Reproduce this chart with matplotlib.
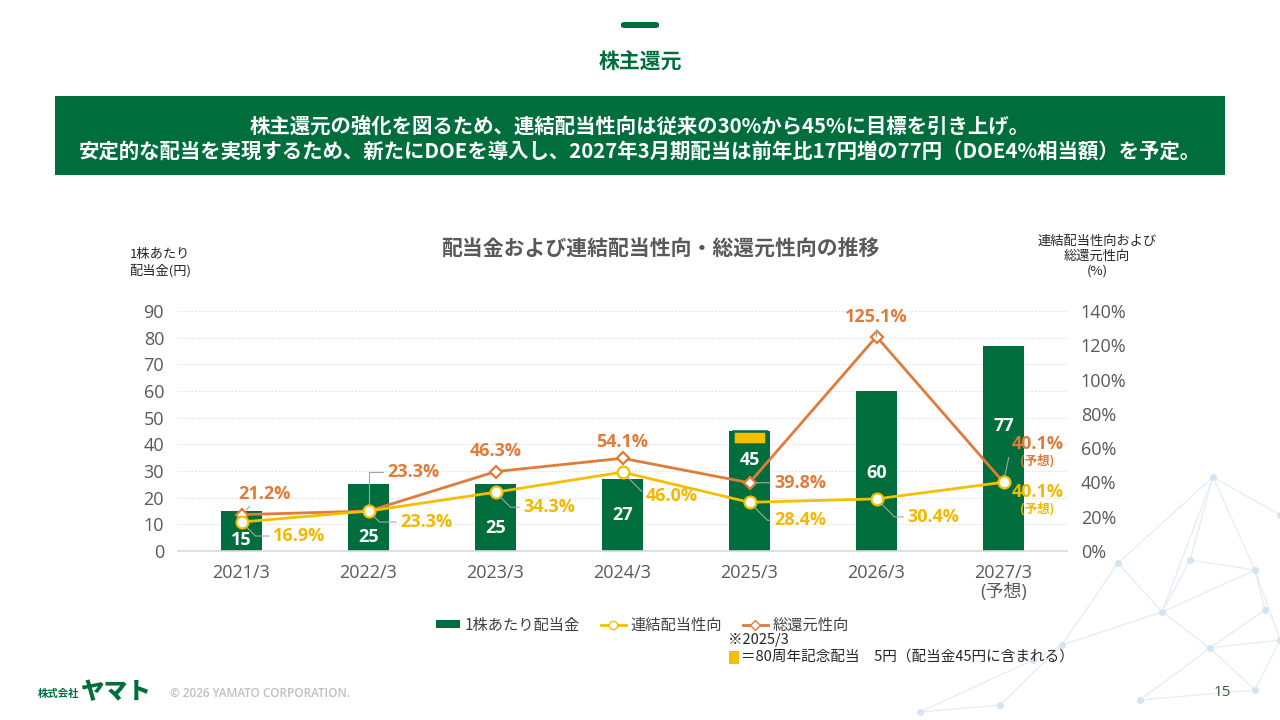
import matplotlib
matplotlib.use("Agg")
import matplotlib.pyplot as plt
from matplotlib.patches import Rectangle, FancyBboxPatch, Patch
from matplotlib.lines import Line2D

# ---------------- data ----------------
categories = ["2021/3", "2022/3", "2023/3", "2024/3", "2025/3", "2026/3", "2027/3\n(予想)"]
dividend = [15, 25, 25, 27, 45, 60, 77]            # 1株あたり配当金 (円)
commemorative = [0, 0, 0, 0, 5, 0, 0]              # 80周年記念配当 (円, 配当金に含まれる)
payout_ratio = [16.9, 23.3, 34.3, 46.0, 28.4, 30.4, 40.1]        # 連結配当性向 (%)
total_return = [21.2, 23.3, 46.3, 54.1, 39.8, 125.1, 40.1]       # 総還元性向 (%)
forecast = [False, False, False, False, False, False, True]
left_ticks = list(range(0, 91, 10))
right_ticks = list(range(0, 141, 20))

# ---------------- styles ----------------
GREEN = "#006E3C"
YELLOW = "#F5BF00"
YELLOW_TXT = "#F2B900"
ORANGE = "#E07B39"
GRAY = "#595959"
JP = ["Noto Sans CJK JP", "DejaVu Sans"]
NUM = ["Open Sans", "Noto Sans CJK JP", "DejaVu Sans"]
plt.rcParams["font.family"] = JP

W, H = 1280, 720
fig = plt.figure(figsize=(12.8, 7.2), dpi=100)
fig.patch.set_facecolor("white")

def fx(px):
    return px / W

def fy(py):
    return 1 - py / H

# ---------------- decorative network (bottom right) ----------------
nodes = [(1213, 477), (1280, 515), (1118, 563), (1162, 612), (1255, 570), (1280, 640),
         (1210, 648), (1062, 645), (1000, 705), (920, 712), (1033, 660), (1140, 700),
         (1255, 690), (1190, 560), (1265, 610)]
edges = [(0, 1), (0, 2), (0, 3), (0, 4), (2, 3), (3, 4), (4, 5), (3, 6), (6, 5), (3, 7),
         (7, 8), (8, 9), (7, 10), (10, 9), (6, 11), (11, 12), (6, 12), (0, 13), (13, 4),
         (4, 14), (14, 6), (12, 5), (2, 7), (13, 3)]
for a, b in edges:
    fig.add_artist(Line2D([fx(nodes[a][0]), fx(nodes[b][0])], [fy(nodes[a][1]), fy(nodes[b][1])],
                          transform=fig.transFigure, color="#E2EDF6", lw=0.9, zorder=0))
for (x, y) in nodes:
    fig.add_artist(Line2D([fx(x)], [fy(y)], transform=fig.transFigure, marker="o",
                          markersize=4, color="#D3E4F2", lw=0, zorder=0))

# ---------------- header ----------------
fig.add_artist(FancyBboxPatch((fx(621), fy(28)), fx(38), 6 / H,
                              boxstyle="round,pad=0,rounding_size=0.003",
                              transform=fig.transFigure, color=GREEN, lw=0))
fig.text(0.5, fy(62), "株主還元", ha="center", va="center", fontsize=15,
         fontweight="bold", color=GREEN)
fig.add_artist(Rectangle((fx(55), fy(175)), fx(1170), 79 / H, transform=fig.transFigure,
                         color=GREEN, lw=0))
fig.text(0.5, fy(126), "株主還元の強化を図るため、連結配当性向は従来の30%から45%に目標を引き上げ。",
         ha="center", va="center", fontsize=14.7, fontweight="bold", color="white")
fig.text(0.5, fy(151), "安定的な配当を実現するため、新たにDOEを導入し、2027年3月期配当は前年比17円増の77円（DOE4%相当額）を予定。",
         ha="center", va="center", fontsize=14.7, fontweight="bold", color="white")

# ---------------- chart ----------------
ax = fig.add_axes([fx(178), fy(551), fx(1067 - 178), 240 / H])
ax2 = ax.twinx()
x = list(range(len(categories)))
bar_w = 0.315

ax.bar(x, dividend, width=bar_w, color=GREEN, lw=0, zorder=2)
sel = [i for i, c in enumerate(commemorative) if c > 0]
ax.bar([x[i] for i in sel], [commemorative[i] for i in sel],
       bottom=[dividend[i] - commemorative[i] for i in sel], width=bar_w * 0.84,
       color=YELLOW, edgecolor=GREEN, linewidth=1.8, zorder=3)

ax.set_xlim(-0.5, 6.5)
ax.set_ylim(0, 90)
ax2.set_ylim(0, 140)
ax.set_yticks(left_ticks)
ax2.set_yticks(right_ticks)
ax2.set_yticklabels([f"{t}%" for t in right_ticks])
ax.set_xticks(x)
ax.set_xticklabels(categories)
for a in (ax, ax2):
    for s in a.spines.values():
        s.set_visible(False)
    a.tick_params(length=0)
ax.spines["bottom"].set_visible(True)
ax.spines["bottom"].set_color("#D9D9D9")
ax.spines["bottom"].set_linewidth(1.2)
ax.yaxis.grid(True, color="#E3E3E3", linestyle=(0, (1.5, 1.5)), lw=0.8)
ax.set_axisbelow(True)
ax.tick_params(axis="y", pad=10, labelsize=13, labelcolor=GRAY)
ax.tick_params(axis="x", pad=9, labelsize=13, labelcolor=GRAY)
ax2.tick_params(axis="y", pad=10, labelsize=13, labelcolor=GRAY)
for lab in ax.get_yticklabels() + ax.get_xticklabels() + ax2.get_yticklabels():
    lab.set_fontfamily(NUM)
for lab in ax.get_xticklabels():
    lab.set_linespacing(1.1)

# bar value labels (position inside bar)
bar_label_y = [4.1, 5.4, 8.6, 13.5, 34.1, 29.4, 46.9]
for i, v in enumerate(dividend):
    ax.text(i, bar_label_y[i], f"{v}", ha="center", va="center", color="white",
            fontsize=13, fontweight="bold", family=NUM, zorder=4)

# lines
ax2.plot(x, total_return, color=ORANGE, lw=2.0, marker="D", markersize=6.5,
         markerfacecolor="white", markeredgecolor=ORANGE, markeredgewidth=1.6, zorder=5)
ax2.plot(x, payout_ratio, color=YELLOW, lw=2.0, marker="o", markersize=8.5,
         markerfacecolor="white", markeredgecolor=YELLOW, markeredgewidth=1.6, zorder=6)

# data labels (offsets in pixels)
orange_off = [(23, 21), (45, 39), (0, 21), (0, 16), (51, 0), (0, 20), (34, 38)]
orange_lead = ["angle,angleA=0,angleB=45,rad=0", "angle,angleA=0,angleB=90,rad=0", None, None,
               "arc3", "arc3", "arc3"]
yellow_off = [(58, -14), (58, -11), (54, -15), (49, -24), (51, -18), (57, -18), (34, -10)]
yellow_lead = ["angle,angleA=0,angleB=-45,rad=0"] * 6 + ["arc3"]

def put_labels(values, offs, leads, color, zb):
    for i, v in enumerate(values):
        dx, dy = offs[i]
        kw = {}
        if leads[i] is not None:
            kw["arrowprops"] = dict(arrowstyle="-", color="#A6A6A6", lw=0.8,
                                    shrinkA=1, shrinkB=5, relpos=(0, 0.5) if dx > 30 else (0.5, 0),
                                    connectionstyle=leads[i])
        ax2.annotate(f"{v:.1f}%", xy=(i, v), xytext=(dx, dy), textcoords="offset pixels",
                     ha="center", va="center", fontsize=13, fontweight="bold", color=color,
                     family=NUM, zorder=zb, **kw)
        if forecast[i]:
            ax2.annotate("(予想)", xy=(i, v), xytext=(dx, dy - 17), textcoords="offset pixels",
                         ha="center", va="center", fontsize=9, fontweight="bold", color=color,
                         zorder=zb)

put_labels(total_return, orange_off, orange_lead, ORANGE, 7)
put_labels(payout_ratio, yellow_off, yellow_lead, YELLOW_TXT, 7)

# titles / axis captions
fig.text(fx(660), fy(248), "配当金および連結配当性向・総還元性向の推移", ha="center", va="center",
         fontsize=15, fontweight="bold", color=GRAY)
fig.text(fx(160), fy(263), "1株あたり\n配当金(円)", ha="center", va="center", fontsize=9.5,
         color="#262626", linespacing=1.25)
fig.text(fx(1097), fy(256), "連結配当性向および\n総還元性向\n(%)", ha="center", va="center",
         fontsize=9.5, color="#262626", linespacing=1.2)

# legend
handles = [Patch(facecolor=GREEN, edgecolor="none"),
           Line2D([], [], color=YELLOW, lw=2, marker="o", markersize=6,
                  markerfacecolor="white", markeredgecolor=YELLOW),
           Line2D([], [], color=ORANGE, lw=2, marker="D", markersize=5,
                  markerfacecolor="white", markeredgecolor=ORANGE)]
leg = fig.legend(handles, ["1株あたり配当金", "連結配当性向", "総還元性向"], loc="center",
                 bbox_to_anchor=(fx(642), fy(625)), ncol=3, frameon=False, fontsize=11,
                 handlelength=1.6, handleheight=0.45, handletextpad=0.3, columnspacing=1.4)
for t in leg.get_texts():
    t.set_color("#404040")

fig.text(fx(728), fy(640), "※2025/3", ha="left", va="center", fontsize=10.5, color="#262626")
fig.add_artist(Rectangle((fx(729), fy(664)), fx(10), 13 / H, transform=fig.transFigure,
                         color=YELLOW, lw=0))
fig.text(fx(741), fy(657), "＝80周年記念配当　5円（配当金45円に含まれる）", ha="left", va="center",
         fontsize=10.5, color="#262626")

# footer
fig.text(fx(38), fy(694), "株式会社", ha="left", va="center", fontsize=7.5, color=GREEN,
         fontweight="bold")
fig.text(fx(80), fy(692), "ヤマト", ha="left", va="center", fontsize=17, color=GREEN,
         fontweight="black")
fig.text(fx(170), fy(693), "© 2026 YAMATO CORPORATION.", ha="left", va="center", fontsize=8.5,
         color="#BFBFBF", family=NUM, fontweight="semibold")
fig.text(fx(1222), fy(693), "15", ha="center", va="center", fontsize=11, color="#3B5E3B",
         family=NUM)

fig.savefig("out.png", dpi=100, facecolor="white")
